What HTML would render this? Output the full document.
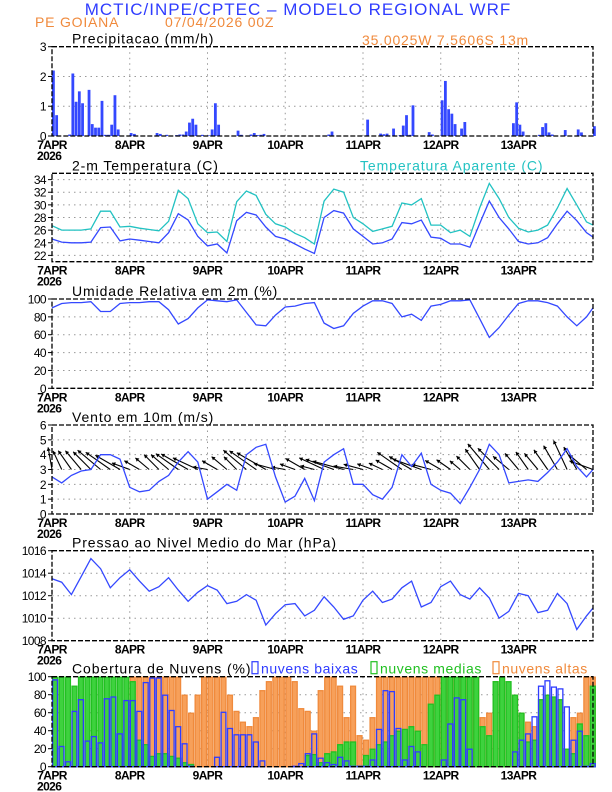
<!DOCTYPE html>
<html><head><meta charset="utf-8">
<style>
html,body{margin:0;padding:0;background:#fff;}
svg{display:block;font-family:"Liberation Sans",sans-serif;}
</style></head>
<body>
<svg id="c" width="612" height="792" viewBox="0 0 612 792">
<text x="298" y="15" text-anchor="middle" font-size="17" letter-spacing="1" fill="#2f3cff">MCTIC/INPE/CPTEC – MODELO REGIONAL WRF</text>
<text x="35" y="27" font-size="14" letter-spacing="0.8" fill="#f08a3c">PE GOIANA</text>
<text x="165" y="27" font-size="14" letter-spacing="0.8" fill="#f08a3c">07/04/2026 00Z</text>
<text x="362" y="45" font-size="14" letter-spacing="0.8" fill="#f08a3c">35.0025W 7.5606S 13m</text>
</svg>
<script>
// ---- data ----
const dayLabels = ["7APR","8APR","9APR","10APR","11APR","12APR","13APR"];
const precip = [
2.2,0.7,0,0,0,0.05,2.1,1.15,1.5,1.1,0,1.55,0.4,0.28,0.28,1.18,0.04,0.04,0.38,1.37,0.22,0,0,0,
0.1,0.07,0,0,0,0,0,0,0.1,0.07,0,0.04,0,0,0.03,0.05,0.05,0.15,0.45,0.58,0.38,0,0.04,0,
0.02,0.22,1.1,0.38,0,0,0,0,0,0.18,0.04,0,0,0.05,0.1,0.03,0.04,0.07,0,0,0,0,0,0,
0,0,0,0,0,0,0,0,0,0,0,0,0,0.05,0.15,0,0,0,0,0,0,0,0,0,
0,0.55,0,0,0,0.08,0.06,0.08,0,0.25,0,0.03,0.35,0.7,0.04,1.03,0,0,0,0,0.13,0.05,0,0,
1.2,1.85,0.9,0.75,0.4,0,0.25,0.47,0,0,0,0,0,0,0,0,0,0,0,0,0.01,0,0.43,1.13,
0.38,0.15,0,0,0,0,0.04,0.3,0.43,0.12,0.05,0,0,0,0.2,0,0,0,0.22,0.12,0,0,0,0.33];
const temp2m = [24.6,24.1,24.0,24.0,24.1,26.4,26.5,24.3,24.6,24.4,24.2,24.0,25.6,28.6,27.6,25.0,23.5,23.8,22.4,27.5,28.8,28.4,26.5,25.0,24.6,23.8,23.0,22.3,28.0,29.1,28.7,26.2,25.0,23.8,24.0,24.6,27.2,27.0,27.6,24.9,24.7,23.8,23.8,23.3,27.0,30.6,28.0,26.2,24.2,23.8,24.0,24.8,27.0,29.0,27.5,25.6,24.9];
const tempApar = [26.7,26.0,26.0,26.0,26.2,29.0,29.0,26.5,26.6,26.3,26.1,25.9,27.4,32.3,31.0,27.0,25.6,25.7,24.2,30.5,32.2,31.5,28.5,27.0,26.5,25.5,24.8,23.8,30.6,32.5,32.0,28.0,27.0,25.8,26.2,26.6,30.3,30.0,31.0,26.8,26.8,25.6,26.0,25.0,29.5,33.4,31.0,28.0,26.3,25.7,26.0,26.8,29.5,32.6,30.0,27.3,26.8];
const relHum = [90,95,96,96,97,86,86,95,96,96,97,97,88,72,78,90,99,98,97,99,85,71,70,82,91,92,95,96,73,67,70,84,92,98,98,95,80,83,76,92,94,98,98,99,78,57,68,82,95,98,98,96,92,80,70,80,90];
const windSpd = [2.5,2.1,2.6,2.9,3.0,4.0,4.0,3.7,1.8,1.5,1.6,2.2,2.6,3.5,4.2,3.5,1.0,1.5,2.0,1.6,4.0,4.5,4.7,2.5,0.8,1.2,2.4,0.9,3.5,4.0,4.4,2.0,2.0,1.3,1.0,1.8,4.0,3.2,4.1,2.0,1.6,1.4,0.7,1.8,3.0,4.7,4.0,2.1,2.2,2.3,2.2,2.8,3.5,4.4,3.2,2.5,3.0];
const windDir = [100,115,125,130,135,140,145,150,160,150,140,135,140,145,150,155,170,150,140,135,140,145,150,165,170,160,150,165,155,160,165,170,165,160,155,150,145,150,160,165,150,145,140,135,125,130,135,140,130,125,130,125,120,115,120,140,160];
const pressure = [1013.5,1013.2,1012.1,1013.7,1015.3,1014.4,1012.7,1013.6,1014.3,1013.3,1012.4,1012.8,1013.6,1012.5,1011.5,1012.3,1012.9,1012.5,1011.3,1011.5,1012.1,1011.6,1009.4,1010.4,1011.2,1011.3,1010.2,1010.7,1011.9,1011.0,1009.9,1010.2,1011.6,1012.4,1011.4,1011.7,1012.7,1013.3,1011.0,1011.4,1012.8,1013.3,1012.1,1011.7,1012.7,1011.8,1010.0,1010.6,1012.2,1012.0,1010.5,1010.7,1012.2,1011.3,1009.0,1010.2,1010.9];
const cloudLow = [97,23,6,62,75,29,34,27,76,78,37,74,74,62,94,99,99,80,63,45,26,1,0,0,0,11,61,43,36,36,36,28,7,0,0,0,0,1,4,15,37,10,5,3,11,7,1,1,1,8,42,85,84,43,8,23,17,0,0,0,8,48,77,75,20,0,0,0,0,0,0,17,30,37,56,90,96,89,87,67,30,40,1,4];
const cloudMid = [100,100,100,90,100,100,100,100,100,100,100,100,95,30,25,12,15,15,12,10,5,3,0,0,0,0,0,0,0,0,0,0,0,0,0,0,0,0,0,13,14,5,15,17,25,28,28,1,13,20,25,28,35,40,42,45,40,25,70,80,100,100,100,100,100,100,45,35,95,100,95,80,60,28,30,75,80,78,75,20,15,48,35,90];
const cloudHigh = [0,0,0,0,0,0,0,0,0,0,0,30,100,100,100,100,100,100,100,100,80,60,80,100,100,100,100,80,62,50,45,55,85,95,100,100,100,95,65,62,40,85,100,100,90,55,90,35,30,55,100,100,100,100,100,100,100,100,100,100,100,100,100,100,100,100,55,60,95,100,80,80,60,50,45,60,40,30,25,20,55,60,100,100];
const precipTicks = [0,1,2,3];
const tempTicks = [22,24,26,28,30,32,34];
const humTicks = [0,20,40,60,80,100];
const windTicks = [0,1,2,3,4,5,6];
const presTicks = [1008,1010,1012,1014,1016];
const cloudTicks = [0,20,40,60,80,100];

// ---- drawing ----
const svg = document.getElementById('c');
const NS = 'http://www.w3.org/2000/svg';
const X0 = 52, X1 = 593, HMAX = 167;
const xS = h => X0 + h*(X1-X0)/HMAX;
function el(tag, attrs, parent){
  const e = document.createElementNS(NS, tag);
  for (const k in attrs) e.setAttribute(k, attrs[k]);
  (parent||svg).appendChild(e);
  return e;
}
const BLUE = '#3448ff', CYAN = '#22c2c2';
const panels = [
  {key:'precip', top:46.7, bot:136, min:0, max:3, ticks:precipTicks, title:'Precipitacao (mm/h)'},
  {key:'temp', top:173.3, bot:261.7, min:21, max:35, ticks:tempTicks, title:'2-m Temperatura (C)'},
  {key:'hum', top:299, bot:388.3, min:0, max:100, ticks:humTicks, title:'Umidade Relativa em 2m (%)'},
  {key:'wind', top:425, bot:514, min:0, max:6, ticks:windTicks, title:'Vento em 10m (m/s)'},
  {key:'pres', top:550.7, bot:640.7, min:1008, max:1016, ticks:presTicks, title:'Pressao ao Nivel Medio do Mar (hPa)'},
  {key:'cloud', top:676.7, bot:766.7, min:0, max:100, ticks:cloudTicks, title:'Cobertura de Nuvens (%)'}
];
panels.forEach(p=>{
  p.y = v => p.bot - (v-p.min)/(p.max-p.min)*(p.bot-p.top);
  const g = el('g', {});
  
  
  p.g = g;
  p.ticks.forEach(t=>{
    if (t===p.min || t===p.max) return;
    const ln = el('line', {x1:X0, x2:X1, y1:p.y(t), y2:p.y(t), stroke:'#999', 'stroke-width':1, 'stroke-dasharray':'1.5,4'}, g);
    
    
  });
  dayLabels.forEach((d,i)=>{
    if (i>0){
      const ln = el('line', {x1:xS(i*24), x2:xS(i*24), y1:p.top, y2:p.bot, stroke:'#999', 'stroke-width':1, 'stroke-dasharray':'1.5,4'}, g);
      
      
    }
    const tx = el('text', {x:xS(i*24), y:p.bot+13, 'text-anchor':'middle', 'font-size':12, 'font-weight':'bold', 'letter-spacing':'-0.6'}, g);
    tx.textContent = d;
    
    
  });
  const yr = el('text', {x:37, y:p.bot+24, 'font-size':12, 'font-weight':'bold', 'letter-spacing':'-0.6'}, g);
  yr.textContent = '2026';
  
  
  p.ticks.forEach(t=>{
    const tk = el('line', {x1:X0-4, x2:X0, y1:p.y(t), y2:p.y(t), stroke:'#000'}, g);
    
    
    const tl = el('text', {x:X0-6, y:p.y(t)+4.5, 'text-anchor':'end', 'font-size':12, 'letter-spacing':'-0.6'}, g);
    tl.textContent = t;
    
    
  });
  const tt = el('text', {x:72, y:p.top-3, 'font-size':14, 'letter-spacing':'0.9'}, g);
  tt.textContent = p.title;
  
  
});
const P = {}; panels.forEach(p=>P[p.key]=p);

function line(p, arr, step, color, name){
  const d = arr.map((v,i)=>(i?'L':'M')+xS(Math.min(i*step,HMAX)).toFixed(1)+','+p.y(v).toFixed(1)).join('');
  const pa = el('path', {d:d, fill:'none', stroke:color, 'stroke-width':1.3}, p.g);
  
  
}
precip.forEach((v,h)=>{
  if (v<=0) return;
  const p = P.precip;
  const r = el('rect', {x:xS(h), y:p.y(v), width:2.8, height:p.bot-p.y(v), fill:BLUE}, p.g);
  
  
});
line(P.temp, tempApar, 3, CYAN, 'apparent-temperature-line');
line(P.temp, temp2m, 3, BLUE, 'temperature-line');
const lt = el('text', {x:360, y:P.temp.top-3, 'font-size':14, 'letter-spacing':'0.9', fill:CYAN});
lt.textContent = 'Temperatura Aparente (C)';


line(P.hum, relHum, 3, BLUE, 'humidity-line');
windSpd.forEach((s,i)=>{
  const p = P.wind;
  const bx = xS(Math.min(i*3,HMAX)), by = p.y(3);
  const a = windDir[i]*Math.PI/180, L = 10 + s*5;
  const ex = bx + L*Math.cos(a), ey = by - L*Math.sin(a);
  const ar = el('line', {x1:bx, y1:by, x2:ex, y2:ey, stroke:'#000', 'stroke-width':1.1}, p.g);
  
  
  const hx1 = ex + 4*Math.cos(a+2.6), hy1 = ey - 4*Math.sin(a+2.6);
  const hx2 = ex + 4*Math.cos(a-2.6), hy2 = ey - 4*Math.sin(a-2.6);
  const hd = el('polygon', {points:ex+','+ey+' '+hx1+','+hy1+' '+hx2+','+hy2, fill:'#000'}, p.g);
  
  
});
line(P.wind, windSpd, 3, BLUE, 'wind-speed-line');
line(P.pres, pressure, 3, BLUE, 'pressure-line');
function bars(arr, fill, stroke, name, fillOp){
  const p = P.cloud;
  arr.forEach((v,i)=>{
    if (v<=0) return;
    const x = xS(i*2);
    const r = el('rect', {x:x+0.6, y:p.y(v)+0.5, width:xS(2)-X0-1.6, height:Math.max(p.bot-p.y(v)-0.5,0), fill:fill, stroke:stroke, 'stroke-width':1.3, 'fill-opacity':fillOp}, p.g);
    
    
  });
}
bars(cloudHigh, '#f7a05a', '#f08a3c', 'high-cloud-bar', 1);
bars(cloudMid, '#3ed23e', '#22c022', 'mid-cloud-bar', 1);
bars(cloudLow, 'none', '#2f3cff', 'low-cloud-bar', 0);
const legItems = [['nuvens baixas','#2f3cff',252],['nuvens medias','#22c022',371],['nuvens altas','#f08a3c',493]];
legItems.forEach(li=>{
  const y = P.cloud.top-3;
  const b = el('rect', {x:li[2], y:y-12, width:6, height:12, fill:'none', stroke:li[1], 'stroke-width':1.2});
  
  
  const t = el('text', {x:li[2]+9, y:y, 'font-size':14, 'letter-spacing':'0.6', fill:li[1]});
  t.textContent = li[0];
  
  
});
panels.forEach(p=>{
  const f = el('rect', {x:X0, y:p.top, width:X1-X0, height:p.bot-p.top, fill:'none', stroke:'#000', 'stroke-width':1.3, 'stroke-dasharray':'5,2'});
  
  
});
</script>
</body></html>
